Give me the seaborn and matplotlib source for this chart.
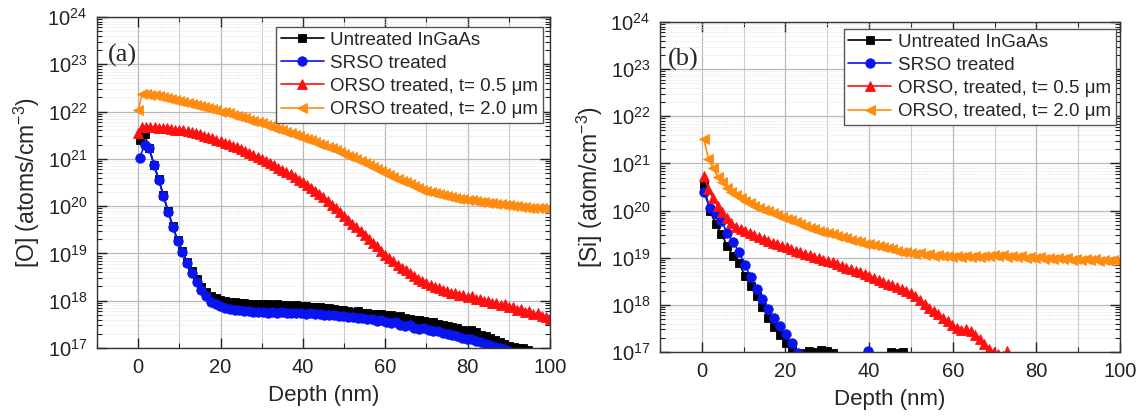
import numpy as np
import pandas as pd
import matplotlib
matplotlib.use("Agg")
import matplotlib.pyplot as plt
import matplotlib.ticker as mticker
import seaborn as sns

# ---------------------------------------------------------------------------
# SIMS depth profiles, values stored as log10(concentration / cm^-3)
# Depth grids: first depth (nm) and sampling step (nm) for each profile
# ---------------------------------------------------------------------------

# (a) Oxygen profiles
o_untreated_start, o_untreated_step = 0.4, 1.15
o_untreated = [
    21.40, 21.52, 21.22, 20.88, 20.57, 20.23, 19.89, 19.57, 19.28, 19.05,
    18.82, 18.62, 18.45, 18.30, 18.18, 18.10, 18.05, 18.02, 18.00, 17.98,
    17.97, 17.95, 17.96, 17.94, 17.93, 17.94, 17.92, 17.93, 17.91, 17.92,
    17.90, 17.91, 17.89, 17.90, 17.88, 17.89, 17.87, 17.86, 17.87, 17.84,
    17.85, 17.82, 17.80, 17.81, 17.78, 17.77, 17.78, 17.74, 17.75, 17.72,
    17.71, 17.72, 17.69, 17.70, 17.66, 17.67, 17.63, 17.62, 17.59, 17.60,
    17.56, 17.54, 17.55, 17.50, 17.48, 17.46, 17.44, 17.42, 17.39, 17.36,
    17.38, 17.33, 17.28, 17.25, 17.21, 17.17, 17.13, 17.09, 17.05, 17.02,
    17.01, 16.99, 16.95,
]
o_srso_start, o_srso_step = 0.4, 1.15
o_srso = [
    21.02, 21.30, 21.22, 20.86, 20.55, 20.21, 19.87, 19.55, 19.26, 19.02,
    18.79, 18.58, 18.40, 18.23, 18.09, 17.98, 17.92, 17.88, 17.85, 17.83,
    17.81, 17.80, 17.78, 17.79, 17.77, 17.76, 17.77, 17.75, 17.76, 17.74,
    17.76, 17.74, 17.75, 17.73, 17.74, 17.72, 17.73, 17.71, 17.72, 17.70,
    17.69, 17.70, 17.67, 17.68, 17.65, 17.66, 17.63, 17.64, 17.61, 17.62,
    17.58, 17.59, 17.55, 17.52, 17.54, 17.49, 17.47, 17.48, 17.43, 17.41,
    17.42, 17.37, 17.35, 17.36, 17.31, 17.29, 17.27, 17.25, 17.22, 17.20,
    17.18, 17.15, 17.12, 17.09, 17.06, 17.03, 17.00, 16.97, 16.94,
]
o_orso05_start, o_orso05_step = 0.0, 1.0
o_orso05 = [
    21.55, 21.68, 21.68, 21.67, 21.67, 21.66, 21.65, 21.65, 21.64, 21.62,
    21.61, 21.60, 21.58, 21.56, 21.54, 21.52, 21.49, 21.47, 21.44, 21.40,
    21.37, 21.34, 21.31, 21.27, 21.24, 21.20, 21.16, 21.12, 21.08, 21.04,
    21.00, 20.95, 20.91, 20.86, 20.81, 20.77, 20.72, 20.67, 20.62, 20.56,
    20.51, 20.45, 20.39, 20.32, 20.26, 20.19, 20.11, 20.03, 19.95, 19.87,
    19.79, 19.71, 19.63, 19.55, 19.47, 19.39, 19.31, 19.23, 19.15, 19.06,
    18.97, 18.90, 18.83, 18.76, 18.70, 18.64, 18.58, 18.52, 18.46, 18.41,
    18.37, 18.34, 18.29, 18.27, 18.22, 18.21, 18.16, 18.16, 18.12, 18.12,
    18.08, 18.09, 18.04, 18.04, 17.99, 18.00, 17.95, 17.96, 17.91, 17.92,
    17.86, 17.87, 17.81, 17.82, 17.77, 17.78, 17.72, 17.73, 17.67, 17.66,
    17.62,
]
o_orso20_start, o_orso20_step = 0.0, 1.0
o_orso20 = [
    22.03, 22.38, 22.37, 22.36, 22.34, 22.32, 22.31, 22.29, 22.27, 22.24,
    22.22, 22.20, 22.18, 22.16, 22.14, 22.12, 22.10, 22.08, 22.05, 22.03,
    22.00, 21.98, 21.96, 21.93, 21.91, 21.88, 21.86, 21.83, 21.81, 21.78,
    21.75, 21.72, 21.69, 21.66, 21.63, 21.60, 21.57, 21.54, 21.51, 21.48,
    21.45, 21.42, 21.39, 21.36, 21.32, 21.29, 21.25, 21.22, 21.18, 21.15,
    21.11, 21.07, 21.03, 20.99, 20.95, 20.91, 20.87, 20.83, 20.78, 20.74,
    20.70, 20.66, 20.62, 20.58, 20.54, 20.50, 20.46, 20.42, 20.39, 20.35,
    20.32, 20.30, 20.27, 20.25, 20.23, 20.21, 20.19, 20.17, 20.16, 20.14,
    20.13, 20.12, 20.10, 20.09, 20.08, 20.07, 20.06, 20.05, 20.04, 20.03,
    20.02, 20.01, 20.00, 19.99, 19.98, 19.97, 19.96, 19.95, 19.95, 19.94,
    19.93,
]

# (b) Silicon profiles
si_untreated_start, si_untreated_step = 0.5, 1.4
si_untreated = [
    20.53, 20.00, 19.72, 19.50, 19.25, 19.03, 18.88, 18.62, 18.40, 18.18,
    17.95, 17.72, 17.52, 17.36, 17.20, 17.07, 16.96, 16.98, 17.02, 16.99,
    17.05, 17.03, 16.97, 16.80, 16.70, 16.60, 16.70, 16.60, 16.80, 16.70,
    16.80, 16.90, 17.00, 16.98, 16.99, 16.80, 16.60,
]
si_srso_start, si_srso_step = 0.5, 1.4
si_srso = [
    20.40, 20.05, 19.92, 19.78, 19.52, 19.33, 19.12, 18.85, 18.58, 18.33,
    18.12, 17.92, 17.72, 17.55, 17.38, 17.18, 16.98, 16.80, 16.70, 16.60,
    16.60, 16.50, 16.50, 16.60, 16.50, 16.60, 16.70, 16.80, 17.02, 16.80,
    16.60,
]
si_orso05_start, si_orso05_step = 0.5, 1.1
si_orso05 = [
    20.74, 20.45, 20.26, 20.10, 19.97, 19.84, 19.73, 19.66, 19.61, 19.56,
    19.52, 19.48, 19.44, 19.40, 19.36, 19.32, 19.29, 19.25, 19.22, 19.18,
    19.15, 19.12, 19.08, 19.05, 19.02, 18.99, 18.96, 18.93, 18.90, 18.86,
    18.83, 18.79, 18.76, 18.72, 18.69, 18.65, 18.62, 18.57, 18.53, 18.49,
    18.45, 18.41, 18.37, 18.33, 18.29, 18.25, 18.18, 18.10, 18.02, 17.93,
    17.86, 17.80, 17.73, 17.65, 17.57, 17.50, 17.46, 17.48, 17.44, 17.37,
    17.28, 17.16, 17.07, 17.00, 16.96, 16.92, 17.01, 16.90,
]
si_orso20_start, si_orso20_step = 0.5, 1.1
si_orso20 = [
    21.51, 21.10, 20.90, 20.72, 20.60, 20.48, 20.40, 20.33, 20.27, 20.21,
    20.15, 20.10, 20.06, 20.02, 19.98, 19.95, 19.91, 19.87, 19.83, 19.79,
    19.75, 19.71, 19.67, 19.63, 19.60, 19.57, 19.55, 19.52, 19.50, 19.47,
    19.44, 19.41, 19.38, 19.35, 19.33, 19.30, 19.28, 19.26, 19.24, 19.22,
    19.20, 19.18, 19.15, 19.13, 19.11, 19.10, 19.08, 19.09, 19.06, 19.07,
    19.04, 19.05, 19.03, 19.04, 19.02, 19.03, 19.01, 19.03, 19.02, 19.04,
    19.02, 19.04, 19.03, 19.05, 19.03, 19.05, 19.02, 19.04, 19.01, 19.03,
    19.00, 19.02, 18.99, 19.01, 18.98, 19.00, 18.98, 18.99, 18.97, 18.99,
    18.96, 18.98, 18.96, 18.97, 18.95, 18.97, 18.94, 18.95, 18.93, 18.95,
    18.92,
]

labels_a = ["Untreated InGaAs", "SRSO treated",
            "ORSO treated, t= 0.5 \u03bcm", "ORSO treated, t= 2.0 \u03bcm"]
labels_b = ["Untreated InGaAs", "SRSO treated",
            "ORSO, treated, t= 0.5 \u03bcm", "ORSO, treated, t= 2.0 \u03bcm"]

colors = ["#000000", "#0a14f0", "#ff1010", "#ff8c10"]
markers = ["s", "o", "^", "<"]
msizes = [5.5, 6.8, 7.2, 6.8]


def profile(start, step, logvals):
    depth = start + step * np.arange(len(logvals))
    return pd.DataFrame({"depth": depth, "conc": 10.0 ** np.asarray(logvals)})


sns.set_theme(style="ticks")
plt.rcParams["font.family"] = ["Liberation Sans", "DejaVu Sans"]
plt.rcParams["mathtext.fontset"] = "custom"
plt.rcParams["mathtext.rm"] = "Liberation Sans"
plt.rcParams["mathtext.it"] = "Liberation Sans:italic"
plt.rcParams["axes.linewidth"] = 1.0

fig = plt.figure(figsize=(11.46, 4.19), dpi=100)
ax_a = fig.add_axes([0.0846, 0.1695, 0.3953, 0.790])
ax_b = fig.add_axes([0.5759, 0.160, 0.4014, 0.7876])

panels = [
    (ax_a, [
        profile(o_untreated_start, o_untreated_step, o_untreated),
        profile(o_srso_start, o_srso_step, o_srso),
        profile(o_orso05_start, o_orso05_step, o_orso05),
        profile(o_orso20_start, o_orso20_step, o_orso20),
    ], labels_a, "[O] (atoms/cm$^{-3}$)", "(a)", (0.985, 0.970), (0.024, 0.885)),
    (ax_b, [
        profile(si_untreated_start, si_untreated_step, si_untreated),
        profile(si_srso_start, si_srso_step, si_srso),
        profile(si_orso05_start, si_orso05_step, si_orso05),
        profile(si_orso20_start, si_orso20_step, si_orso20),
    ], labels_b, "[Si] (atom/cm$^{-3}$)", "(b)", (0.991, 0.979), (0.018, 0.885)),
]

for ax, frames, labels, ylab, tag, leg_anchor, tag_pos in panels:
    for df, lab, c, m, ms in zip(frames, labels, colors, markers, msizes):
        sns.lineplot(data=df, x="depth", y="conc", ax=ax, color=c, label=lab,
                     marker=m, markersize=ms, markeredgecolor=c,
                     markeredgewidth=0.6, linewidth=1.2, errorbar=None)
    ax.set_yscale("log")
    ax.set_xlim(-10, 100)
    ax.set_ylim(1e17, 1e24)
    ax.xaxis.set_major_locator(mticker.MultipleLocator(20))
    ax.xaxis.set_minor_locator(mticker.MultipleLocator(10))
    ax.yaxis.set_major_locator(mticker.LogLocator(base=10, numticks=20))
    ax.yaxis.set_minor_locator(mticker.LogLocator(base=10, subs=np.arange(2, 10), numticks=20))
    ax.yaxis.set_minor_formatter(mticker.NullFormatter())
    ax.set_axisbelow(True)
    ax.grid(which="major", color="#b9b9b9", linewidth=0.9)
    ax.xaxis.grid(which="minor", color="#cccccc", linewidth=0.8)
    ax.yaxis.grid(which="minor", color="#dcdcdc", linewidth=0.6, linestyle=(0, (1, 1.5)))
    ax.tick_params(which="both", direction="in", top=True, right=True,
                   labelsize=14.5, colors="#222222")
    ax.tick_params(which="major", length=7, width=1.0, pad=7)
    ax.tick_params(which="minor", length=3.5, width=0.8)
    for sp in ax.spines.values():
        sp.set_color("#333333")
        sp.set_visible(True)
    ax.set_xlabel("Depth (nm)", fontsize=16, labelpad=6)
    ax.set_ylabel(ylab, fontsize=16.5, labelpad=4)
    ax.text(tag_pos[0], tag_pos[1], tag, transform=ax.transAxes,
            fontsize=19, family="Liberation Serif", va="center", ha="left")
    leg = ax.legend(loc="upper right", bbox_to_anchor=leg_anchor, borderaxespad=0,
                    fontsize=13.5, frameon=True, fancybox=False, framealpha=1,
                    edgecolor="#555555", handlelength=2.3, handletextpad=0.35,
                    labelspacing=0.32, borderpad=0.25, numpoints=1)
    leg.get_frame().set_linewidth(1.0)

fig.savefig("out.png", dpi=100, facecolor="white")
